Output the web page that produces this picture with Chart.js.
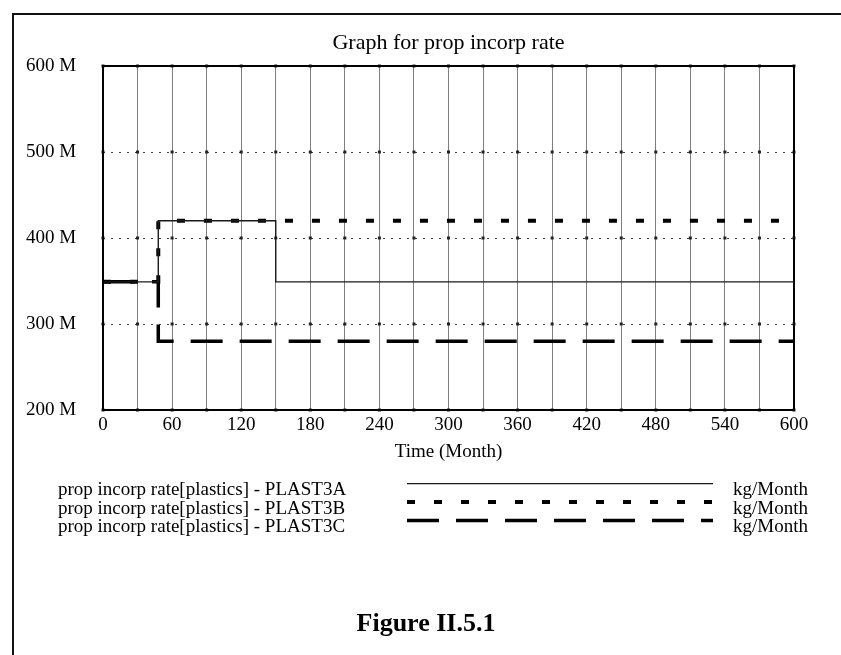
<!DOCTYPE html>
<html>
<head>
<meta charset="utf-8">
<script src="https://cdn.jsdelivr.net/npm/chart.js@4.4.1/dist/chart.umd.min.js"></script>
<style>
  body { margin: 0; background: #fff; }
  #wrap { position: relative; width: 841px; height: 655px; overflow: hidden; }
  #frame { position: absolute; left: 12px; top: 13px; right: -4px; bottom: -4px;
           border-top: 2px solid #111; border-left: 2px solid #111; }
  #caption { position: absolute; left: 0; top: 608px; width: 852px; text-align: center;
             font: bold 26px "Liberation Serif", serif; line-height: 30px; color: #000; }
</style>
</head>
<body>
<div id="wrap">
  <div id="frame"></div>
  <canvas id="rateChart"></canvas>
  <div id="caption">Figure II.5.1</div>
</div>
<script>
// values, in millions of kg/Month ("M")
const seriesNames = ['prop incorp rate[plastics] - PLAST3A',
                     'prop incorp rate[plastics] - PLAST3B',
                     'prop incorp rate[plastics] - PLAST3C'];
const unitLabel = 'kg/Month';

const timeA = [0, 48, 150, 600];
const rateA = [349, 420, 349, 349];
const timeB = [0, 48, 600];
const rateB = [349, 420, 420];
const timeC = [0, 48, 600];
const rateC = [349, 280, 280];

const yTicks = [200, 300, 400, 500, 600];

function toPoints(times, values) {
    return times.map((t, i) => ({ x: t, y: values[i] }));
}

const serif = '"Liberation Serif", "Times New Roman", serif';

// frame round the plot, grid dots and the legend rows under the axis title
const decorations = {
    id: 'decorations',
    beforeDatasetsDraw(chart) {
        const { ctx, scales: { x, y } } = chart;
        ctx.save();
        ctx.fillStyle = '#222';
        x.ticks.forEach(t => {
            yTicks.forEach(v => {
                ctx.fillRect(x.getPixelForValue(t.value) - 1.5, y.getPixelForValue(v) - 1.5, 3, 3);
            });
        });
        ctx.restore();
    },
    afterDraw(chart) {
        const { ctx, chartArea: area, scales: { x } } = chart;
        ctx.save();
        ctx.strokeStyle = '#000';
        ctx.lineWidth = 2;
        ctx.strokeRect(area.left, area.top, area.right - area.left, area.bottom - area.top);

        ctx.font = '19px ' + serif;
        ctx.fillStyle = '#000';
        ctx.textBaseline = 'alphabetic';
        chart.data.datasets.forEach((ds, i) => {
            const base = x.bottom + 31.5 + i * 18.5;
            ctx.textAlign = 'left';
            ctx.fillText(ds.label, area.left - 45, base);
            ctx.fillText(unitLabel, area.left + 630, base);

            ctx.save();
            ctx.strokeStyle = ds.borderColor;
            ctx.lineWidth = ds.borderWidth;
            ctx.setLineDash(ds.borderDash || []);
            ctx.beginPath();
            ctx.moveTo(area.left + 304, base - 11.5);
            ctx.lineTo(area.left + 610, base - 11.5);
            ctx.stroke();
            ctx.restore();
        });
        ctx.restore();
    }
};

const ctx = document.getElementById('rateChart').getContext('2d');
const rateChart = new Chart(ctx, {
    type: 'line',
    data: {
        datasets: [{
            label: seriesNames[0],
            data: toPoints(timeA, rateA),
            borderColor: '#1a1a1a',
            borderWidth: 1.4,
            stepped: 'before',
            pointRadius: 0
        }, {
            label: seriesNames[1],
            data: toPoints(timeB, rateB),
            borderColor: '#000',
            borderWidth: 4,
            borderDash: [8, 19],
            stepped: 'before',
            pointRadius: 0
        }, {
            label: seriesNames[2],
            data: toPoints(timeC, rateC),
            borderColor: '#000',
            borderWidth: 3.5,
            borderDash: [32, 17],
            stepped: 'before',
            pointRadius: 0
        }]
    },
    options: {
        responsive: true,
        maintainAspectRatio: false,
        animation: false,
        layout: {
            padding: { top: 30, left: 26, right: 47, bottom: 191.4 }
        },
        plugins: {
            legend: { display: false },
            tooltip: { enabled: false },
            title: {
                display: true,
                text: 'Graph for prop incorp rate',
                fullSize: false,
                color: '#000',
                font: { family: serif, size: 22, weight: 'normal' },
                padding: { top: 0, bottom: 9.6 }
            }
        },
        scales: {
            x: {
                type: 'linear',
                min: 0,
                max: 600,
                border: { display: false },
                grid: { color: 'rgba(0,0,0,0.5)', lineWidth: 1, drawTicks: false },
                ticks: {
                    stepSize: 30,
                    autoSkip: false,
                    maxRotation: 0,
                    padding: 4,
                    color: '#000',
                    font: { family: serif, size: 19 },
                    callback: v => (v % 60 === 0 ? String(v) : '')
                },
                title: {
                    display: true,
                    text: 'Time (Month)',
                    color: '#000',
                    font: { family: serif, size: 19 },
                    padding: { top: 0, bottom: 0 }
                }
            },
            y: {
                min: 200,
                max: 600,
                border: { display: false, dash: [2, 6] },
                grid: { color: '#444', lineWidth: 1, drawTicks: false },
                afterFit: scale => { scale.width = 77; },
                ticks: {
                    stepSize: 100,
                    crossAlign: 'far',
                    color: '#000',
                    font: { family: serif, size: 19 },
                    callback: v => v + ' M'
                }
            }
        }
    },
    plugins: [decorations]
});
</script>
</body>
</html>
